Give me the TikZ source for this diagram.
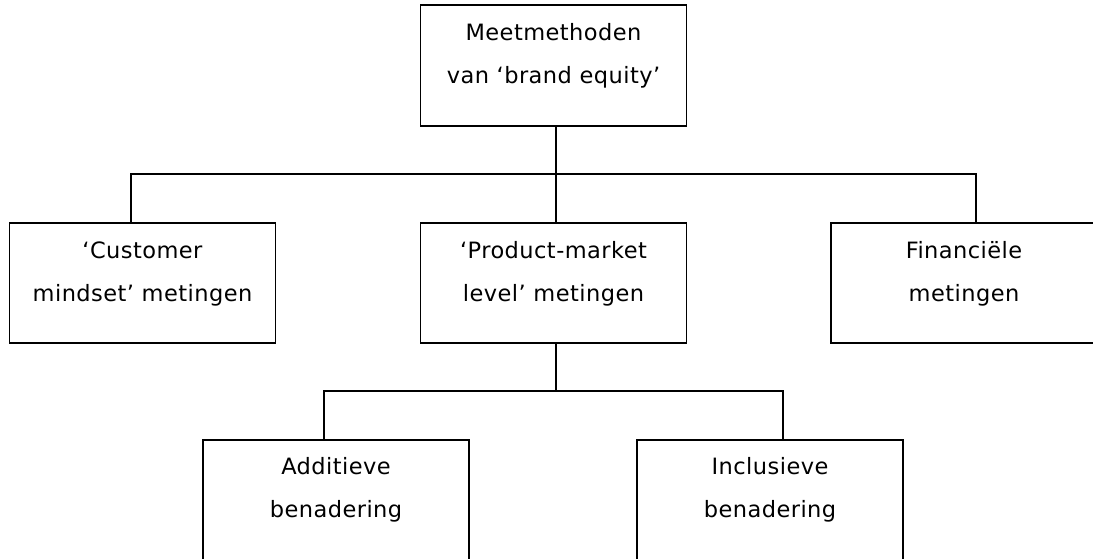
\documentclass[tikz,border=0pt]{standalone}
\usepackage{fontspec}
\newfontfamily\vfont[LetterSpace=2]{DejaVu Sans}
\begin{document}
\begin{tikzpicture}[x=1pt,y=-1pt,
  box/.style={draw=black, line width=1.6pt, minimum width=266pt, minimum height=120pt, inner sep=0pt},
  txt/.style={align=center, inner sep=0pt, font=\vfont\fontsize{22.5}{43}\selectfont, text=black},
  conn/.style={draw=black, line width=1.6pt}]
\clip (0,0) rectangle (1093,558);
% boxes
\node[box, minimum height=121pt] (top) at (553.5,65.5) {};
\node[box] (cust) at (142.5,283) {};
\node[box] (prod) at (553.5,283) {};
\node[box] (fin)  at (964,283) {};
\node[box] (add)  at (336,500) {};
\node[box] (inc)  at (770,500) {};
% texts
\node[txt] (ttop)  at (553.5,53.5) {\strut Meetmethoden\\\strut van ‘brand equity’};
\node[txt] (tcust) at (142.5,271.4) {\strut ‘Customer\\\strut mindset’ metingen};
\node[txt] (tprod) at (553.5,271.4) {\strut ‘Product-market\\\strut level’ metingen};
\node[txt] (tfin)  at (964,271.7) {\strut Financiële\\\strut metingen};
\node[txt] (tadd)  at (336,487.4) {\strut Additieve\\\strut benadering};
\node[txt] (tinc)  at (770,487.4) {\strut Inclusieve\\\strut benadering};
% connectors
\coordinate (j1) at (556,174);
\coordinate (cl) at (131,174);
\coordinate (cr) at (976,174);
\coordinate (j2) at (556,391);
\coordinate (bl) at (324,391);
\coordinate (br) at (783,391);
\draw[conn] (top.south -| j1) -- (prod.north -| j1);
\draw[conn] (cust.north -| cl) -- (cl) -- (cr) -- (fin.north -| cr);
\draw[conn] (prod.south -| j2) -- (j2);
\draw[conn] (add.north -| bl) -- (bl) -- (br) -- (inc.north -| br);
\end{tikzpicture}
\end{document}
